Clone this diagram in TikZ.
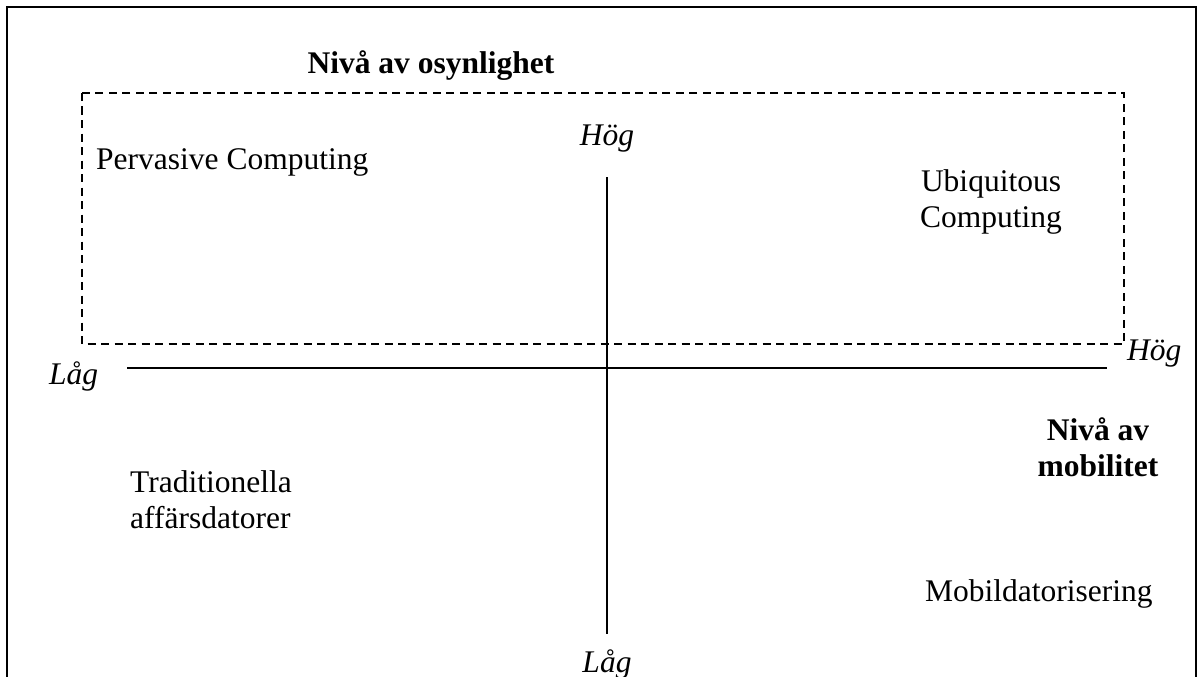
\documentclass[tikz,border=0pt]{standalone}
\usepackage{fontspec}
\setmainfont{Liberation Serif}
\begin{document}
\begin{tikzpicture}[x=1pt,y=-1pt,
  lbl/.style={inner sep=0pt, anchor=base, font=\fontsize{31.5}{36}\selectfont},
  lblw/.style={lbl, anchor=base west},
  axisline/.style={line width=1.5pt},
  frameline/.style={line width=2pt},
  dashbox/.style={line width=1.3pt, dash pattern=on 8pt off 5.5pt}]
\useasboundingbox (0,0) rectangle (1203,677);
% outer frame (open at bottom)
\draw[frameline] (7,677) -- (7,7) -- (1196,7) -- (1196,677);
% dashed region
\draw[dashbox] (82,93) rectangle (1124,344);
% axes
\coordinate (hl) at (127,368);
\coordinate (hr) at (1107,368);
\coordinate (vt) at (607,177);
\coordinate (vb) at (607,634);
\draw[axisline] (hl) -- (hr);
\draw[axisline] (vt) -- (vb);
% labels (multi-line nodes: base = baseline of last line)
\node[lbl, font=\fontsize{31.5}{36}\selectfont\bfseries] (title) at (431,74) {Nivå av osynlighet};
\node[lblw] (perv) at (96,169) {Pervasive Computing};
\node[lbl] (hogtop) at (607,146) {\itshape Hög};
\node[lbl, align=center] (ubi) at (991,227) {Ubiquitous\\Computing};
\node[lblw] (lagleft) at (49,384) {\itshape Låg};
\node[lblw] (hogright) at (1127,360) {\itshape Hög};
\node[lbl, align=center, font=\fontsize{31.5}{36}\selectfont\bfseries] (mob) at (1098,476) {Nivå av\\mobilitet};
\node[lblw, align=left] (trad) at (130,528) {Traditionella\\affärsdatorer};
\node[lblw] (mobd) at (925,601) {Mobildatorisering};
\node[lbl] (lagbot) at (607,672) {\itshape Låg};
\end{tikzpicture}
\end{document}
